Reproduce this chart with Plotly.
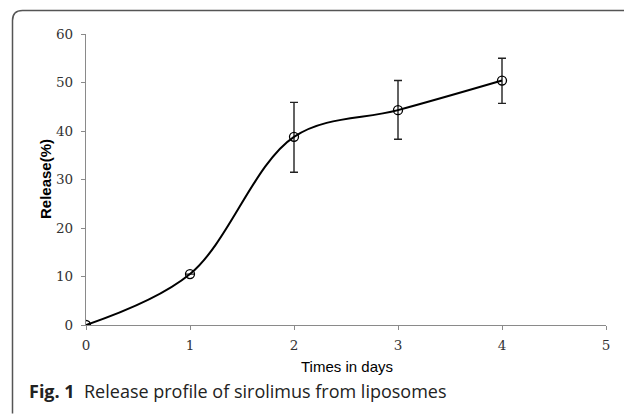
import plotly.graph_objects as go

days = [0, 1, 2, 3, 4]
release = [0.0, 10.5, 38.8, 44.3, 50.4]
err_plus = [0.0, 0.0, 7.1, 6.1, 4.6]
err_minus = [0.0, 0.0, 7.3, 6.0, 4.7]
x_ticks = [0, 1, 2, 3, 4, 5]
y_ticks = [0, 10, 20, 30, 40, 50, 60]

W, H = 624, 415
ML, MR, MT, MB = 86, 18, 34, 90
PW, PH = W - ML - MR, H - MT - MB


def px(x):
    return (x - ML) / PW


def py(y):
    return (H - MB - y) / PH


fig = go.Figure()
fig.add_trace(go.Scatter(
    x=days, y=release,
    mode="lines+markers",
    line=dict(color="black", width=2, shape="spline", smoothing=1.0),
    marker=dict(symbol="circle-open", size=9, color="black", line=dict(width=1.3)),
    error_y=dict(type="data", symmetric=False, array=err_plus, arrayminus=err_minus,
                 color="#222222", thickness=1.4, width=4),
    showlegend=False,
))

# rounded frame (pixel coords converted to paper coords)
L, T, R, B, r = 12.5, 10.5, 640, 413.5, 10
path = (f"M {px(L)},{py(B)} L {px(L)},{py(T + r)} Q {px(L)},{py(T)} {px(L + r)},{py(T)} "
        f"L {px(R)},{py(T)}")
fig.add_shape(type="path", path=path, xref="paper", yref="paper",
              line=dict(color="#555555", width=1.5), layer="above")

tick_font = dict(family="DejaVu Serif", size=13.5, color="#333333")
fig.update_layout(
    width=W, height=H,
    margin=dict(l=ML, r=MR, t=MT, b=MB),
    paper_bgcolor="white", plot_bgcolor="white",
    xaxis=dict(range=[0, 5], tickvals=x_ticks, showgrid=False, zeroline=False,
               showline=True, linecolor="#8a8a8a", linewidth=1.2,
               ticks="outside", ticklen=4, tickcolor="#8a8a8a",
               ticklabelstandoff=4, tickfont=tick_font),
    yaxis=dict(range=[0, 60], tickvals=y_ticks, showgrid=False, zeroline=False,
               showline=True, linecolor="#8a8a8a", linewidth=1.2,
               ticks="outside", ticklen=4, tickcolor="#8a8a8a",
               ticklabelstandoff=5, tickfont=tick_font),
    annotations=[
        dict(text="Times in days", x=px(347), y=py(366), xref="paper", yref="paper",
             showarrow=False, font=dict(family="Liberation Sans", size=15, color="black"),
             xanchor="center", yanchor="middle"),
        dict(text="<b>Release(%)</b>", x=px(45), y=py(179), xref="paper", yref="paper",
             showarrow=False, textangle=-90,
             font=dict(family="Liberation Sans", size=15, color="black"),
             xanchor="center", yanchor="middle"),
        dict(text="<b>Fig. 1</b>  Release profile of sirolimus from liposomes",
             x=px(27), y=py(391), xref="paper", yref="paper", showarrow=False,
             font=dict(family="Open Sans", size=18, color="#222222"),
             xanchor="left", yanchor="middle"),
    ],
)

fig.write_html("out.html", config={"displayModeBar": False},
               post_script="document.body.style.margin='0';document.body.style.overflow='hidden';")
